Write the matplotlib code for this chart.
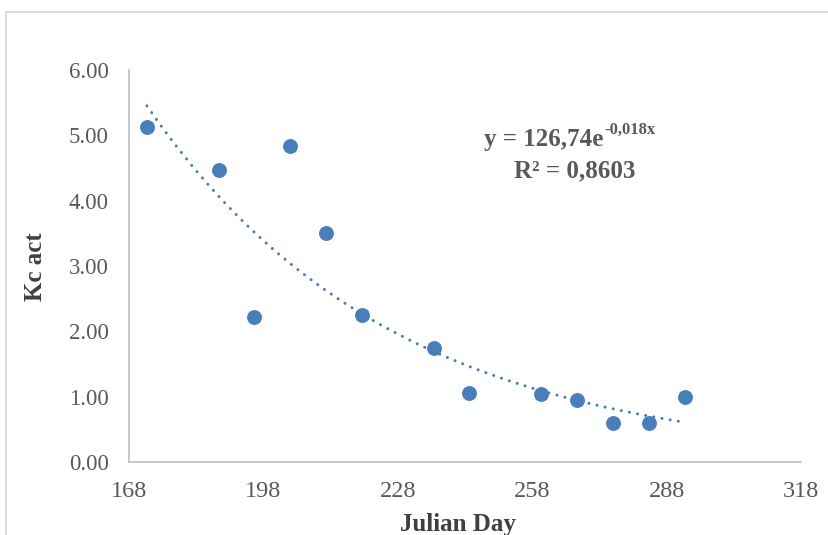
import numpy as np
import matplotlib
matplotlib.use("Agg")
import matplotlib.pyplot as plt
from matplotlib.lines import Line2D

julian_day = [172, 188, 196, 204, 212, 220, 236, 244, 260, 268, 276, 284, 292]
kc_act = [5.12, 4.47, 2.22, 4.83, 3.51, 2.25, 1.75, 1.05, 1.04, 0.95, 0.59, 0.60, 1.00]
x_ticks = [168, 198, 228, 258, 288, 318]
y_ticks = [0, 1, 2, 3, 4, 5, 6]
eq_base = "y = 126,74e"
eq_sup = "-0,018x"
r2_text = "R² = 0,8603"

plt.rcParams['font.family'] = ['Liberation Serif', 'DejaVu Serif']

W, H = 829, 535
fig = plt.figure(figsize=(W / 100, H / 100), dpi=100)
fig.patch.set_facecolor('white')

# outer chart frame (extends past the right/bottom edges)
fig.add_artist(Line2D([6.5 / W, 6.5 / W], [0, 1 - 11.5 / H], transform=fig.transFigure,
                      color='#D9D9D9', lw=1.4))
fig.add_artist(Line2D([6.5 / W, 1], [1 - 11.5 / H, 1 - 11.5 / H], transform=fig.transFigure,
                      color='#D9D9D9', lw=1.4))

ax = fig.add_axes([129 / W, 1 - 462 / H, (801 - 129) / W, (462 - 70) / H])
ax.set_xlim(168, 318)
ax.set_ylim(0, 6)

blue = '#4A7EBB'
ax.scatter(julian_day, kc_act, s=115, color=blue, zorder=3, linewidths=0)

# exponential trendline (least squares on log values, as Excel does)
xd = np.array(julian_day, dtype=float)
yd = np.array(kc_act, dtype=float)
b, lna = np.polyfit(xd, np.log(yd), 1)
xt = np.linspace(xd.min(), xd.max(), 300)
yt = np.exp(lna) * np.exp(b * xt)
ax.plot(xt, yt, color=blue, lw=2.2, dashes=(0.01, 2.7), dash_capstyle='round', zorder=2)

ax.set_xticks(x_ticks)
ax.set_yticks(y_ticks)
ax.set_yticklabels([f"{v:.2f}" for v in y_ticks])
ax.tick_params(length=0, colors='#595959')
ax.tick_params(axis='x', labelsize=17.5, pad=14)
ax.tick_params(axis='y', labelsize=16.5, pad=14.5)

for s in ['top', 'right']:
    ax.spines[s].set_visible(False)
for s in ['left', 'bottom']:
    ax.spines[s].set_color('#BFBFBF')
    ax.spines[s].set_linewidth(1.2)

fig.text(36 / W, 1 - 267 / H, "Kc act", rotation=90, ha='center', va='center',
         fontsize=18, fontweight='bold', color='#404040')
fig.text(458 / W, 1 - 524 / H, "Julian Day", ha='center', va='center',
         fontsize=18, fontweight='bold', color='#404040')

# trendline equation with a real superscript
t1 = fig.text(484 / W, 1 - 146 / H, eq_base, ha='left', va='baseline',
              fontsize=18, fontweight='bold', color='#595959')
fig.canvas.draw()
bb = t1.get_window_extent(renderer=fig.canvas.get_renderer())
fig.text((bb.x1 + 1) / W, 1 - 134 / H, eq_sup, ha='left', va='baseline',
         fontsize=12, fontweight='bold', color='#595959')
fig.text(575 / W, 1 - 177 / H, r2_text, ha='center', va='baseline',
         fontsize=18, fontweight='bold', color='#595959')

fig.savefig('out.png', dpi=100, facecolor='white')
